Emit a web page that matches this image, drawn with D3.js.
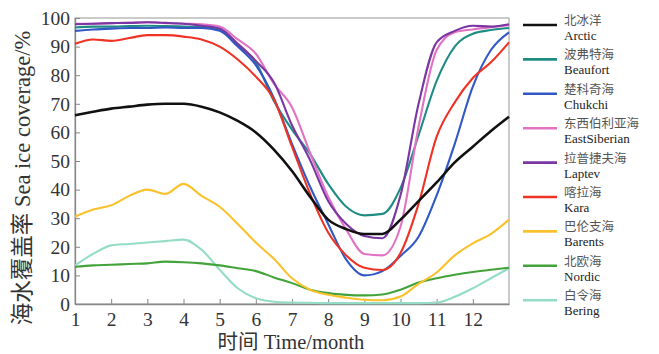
<!DOCTYPE html>
<html>
<head>
<meta charset="utf-8">
<script src="https://cdn.jsdelivr.net/npm/d3@7"></script>
<style>
  body { margin: 0; background: #fff; }
  svg text { font-family: "Liberation Serif", "Times New Roman", Tinos, "DejaVu Serif", "Noto Sans CJK SC", serif; }
  svg text.zh { font-family: "Noto Sans CJK SC", sans-serif; }
</style>
</head>
<body>
<div id="chart"></div>
<script>
// months (x) shared by every series
const months = [1, 1.5, 2, 2.5, 3, 3.5, 4, 4.5, 5, 5.5, 6, 6.5, 7, 7.5, 8, 8.5, 9, 9.5, 10, 10.5, 11, 11.5, 12, 12.5, 13];

const arctic       = [66, 67.2, 68.3, 69, 69.7, 70, 70, 69, 67, 64, 60, 54, 46.5, 37.5, 29.5, 26.2, 24.5, 24.5, 29.5, 36, 42.5, 49.5, 55, 60.5, 65.5];
const beaufort     = [96.7, 97, 97, 97.2, 97.3, 97.2, 97, 96.8, 96, 90.5, 84.5, 71, 61, 52.5, 42, 34, 31, 31.5, 40.5, 59, 78, 90, 94.5, 95.8, 96.5];
const chukchi      = [95.5, 96, 96.3, 96.5, 96.5, 96.7, 96.5, 96.5, 95.5, 90, 83.5, 72, 56, 41, 28, 15.5, 10, 11.5, 16.8, 23.5, 38, 56, 76, 88.8, 95];
const eastSiberian = [98, 98, 98.2, 98.3, 98.5, 98.2, 98, 97.8, 97, 92.5, 87.5, 77, 68.8, 52.8, 37.5, 26, 17.5, 17, 27, 62, 88.8, 95, 96, 96.8, 97.5];
const laptev       = [97.8, 98, 98.2, 98.3, 98.5, 98.3, 98, 97.3, 96.3, 91, 85, 77.5, 62.5, 50.3, 36, 28, 23.8, 23, 38, 70, 91.5, 95.5, 97.3, 97, 97.8];
const kara         = [91, 92.5, 92, 93, 94, 94, 93.5, 92.5, 90, 85.5, 79.5, 71.5, 55, 38.5, 25, 17, 12.7, 11.9, 17.8, 35, 58.5, 70.5, 79, 84.5, 91.5];
const barents      = [30.5, 33, 34.5, 37.8, 40, 38.5, 42, 37.8, 34, 28, 21.5, 15.8, 9, 5, 3.2, 2.2, 1.5, 1.3, 2.6, 7, 11, 17, 21.2, 24.5, 29.5];
const nordic       = [13, 13.5, 13.7, 14, 14.2, 14.8, 14.6, 14.2, 13.5, 12.5, 11.5, 9.3, 7.3, 5, 3.8, 3.2, 3, 3.3, 5, 7.5, 9, 10.2, 11.2, 12, 12.7];
const bering       = [13.5, 17.5, 20.5, 21, 21.5, 22, 22.5, 19, 12, 5.5, 2, 0.8, 0.5, 0.4, 0.3, 0.3, 0.3, 0.3, 0.3, 0.3, 0.5, 2.5, 5.5, 9, 12.5];

const namesZh = ["北冰洋", "波弗特海", "楚科奇海", "东西伯利亚海", "拉普捷夫海", "喀拉海", "巴伦支海", "北欧海", "白令海"];
const namesEn = ["Arctic", "Beaufort", "Chukchi", "EastSiberian", "Laptev", "Kara", "Barents", "Nordic", "Bering"];
const colors  = ["#111111", "#1f8c84", "#3158c4", "#e272c4", "#7a36a2", "#ee3224", "#f9c22c", "#43a33a", "#95dcc6"];
const seriesValues = [arctic, beaufort, chukchi, eastSiberian, laptev, kara, barents, nordic, bering];

const xTicks = [1, 2, 3, 4, 5, 6, 7, 8, 9, 10, 11, 12];
const yTicks = [0, 10, 20, 30, 40, 50, 60, 70, 80, 90, 100];

const W = 659, H = 354;
const plot = { left: 75, right: 509, top: 18, bottom: 304 };

const svg = d3.select("#chart").append("svg").attr("width", W).attr("height", H);

const x = d3.scaleLinear().domain([1, 13]).range([plot.left, plot.right]);
const y = d3.scaleLinear().domain([0, 100]).range([plot.bottom, plot.top]);

// frame
svg.append("rect")
  .attr("x", plot.left).attr("y", plot.top)
  .attr("width", plot.right - plot.left).attr("height", plot.bottom - plot.top)
  .attr("fill", "none").attr("stroke", "#a8a8a8").attr("stroke-width", 1.2);

// x axis, ticks pointing inward
const xAxis = svg.append("g")
  .attr("transform", `translate(0,${plot.bottom})`)
  .call(d3.axisBottom(x).tickValues(xTicks).tickSizeInner(-5).tickSizeOuter(0).tickPadding(8))
  .attr("font-family", null);
xAxis.select(".domain").attr("stroke", "#888").attr("stroke-width", 1.3);
xAxis.selectAll(".tick line").attr("stroke", "#888");
xAxis.selectAll(".tick text").attr("font-size", 19.5).attr("fill", "#333");

// y axis
const yAxis = svg.append("g")
  .attr("transform", `translate(${plot.left},0)`)
  .call(d3.axisLeft(y).tickValues(yTicks).tickSizeInner(-5).tickSizeOuter(0).tickPadding(5))
  .attr("font-family", null);
yAxis.select(".domain").attr("stroke", "#888").attr("stroke-width", 1.3);
yAxis.selectAll(".tick line").attr("stroke", "#888");
yAxis.selectAll(".tick text").attr("font-size", 19.5).attr("fill", "#333");

// axis titles
svg.append("text")
  .attr("x", (plot.left + plot.right) / 2 - 1).attr("y", 349)
  .attr("text-anchor", "middle").attr("font-size", 20.5).attr("fill", "#333")
  .text("时间 Time/month");

svg.append("text")
  .attr("transform", "translate(30,178) rotate(-90)")
  .attr("text-anchor", "middle").attr("font-size", 22.5).attr("fill", "#333")
  .text("海水覆盖率 Sea ice coverage/%");

// lines
const line = d3.line()
  .x((d, i) => x(months[i]))
  .y(d => y(d))
  .curve(d3.curveMonotoneX);

const order = [8, 7, 6, 1, 2, 3, 4, 5, 0];
svg.append("g").selectAll("path")
  .data(order)
  .enter()
  .append("path")
  .attr("d", k => line(seriesValues[k]))
  .attr("fill", "none")
  .attr("stroke", k => colors[k])
  .attr("stroke-width", k => k === 0 ? 2.6 : 2.1)
  .attr("stroke-linejoin", "round");

// legend
const legend = svg.append("g");
const item = legend.selectAll("g")
  .data(namesEn)
  .enter()
  .append("g")
  .attr("transform", (d, i) => `translate(0,${25 + i * 34.4})`);

item.append("line")
  .attr("x1", 523).attr("x2", 557).attr("y1", 0).attr("y2", 0)
  .attr("stroke", (d, i) => colors[i]).attr("stroke-width", 2.6);

item.append("text")
  .attr("class", "zh")
  .attr("x", 564).attr("y", 0)
  .attr("font-size", 12.5).attr("fill", "#555")
  .text((d, i) => namesZh[i]);

item.append("text")
  .attr("x", 564).attr("y", 15)
  .attr("font-size", 13).attr("fill", "#222")
  .text(d => d);
</script>
</body>
</html>
